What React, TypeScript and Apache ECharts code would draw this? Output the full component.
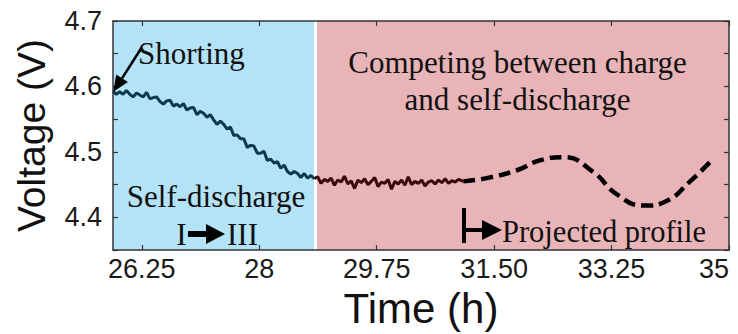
import React, { useEffect, useRef } from "react";
import * as echarts from "echarts";

// ---------- data ----------
const xTicks = [26.25, 28, 29.75, 31.5, 33.25, 35];
const yLabels = [4.4, 4.5, 4.6, 4.7];

const blueZone = [25.82, 28.815];
const pinkZone = [28.86, 35];

// self-discharge segment (h, V)
const seg1Time = [
  25.82, 25.87, 25.92, 25.97, 26.02, 26.07, 26.12, 26.17, 26.22, 26.27,
  26.32, 26.37, 26.42, 26.47, 26.52, 26.57, 26.62, 26.67, 26.72, 26.77,
  26.82, 26.87, 26.92, 26.97, 27.02, 27.07, 27.12, 27.17, 27.22, 27.27,
  27.32, 27.37, 27.42, 27.47, 27.52, 27.57, 27.62, 27.67, 27.72, 27.77,
  27.82, 27.87, 27.92, 27.97, 28.02, 28.07, 28.12, 28.17, 28.22, 28.27,
  28.32, 28.37, 28.42, 28.47, 28.52, 28.57, 28.62, 28.67, 28.72, 28.77,
  28.82,
];
const seg1Volt = [
  4.593, 4.588, 4.592, 4.588, 4.594, 4.588, 4.584, 4.590, 4.587, 4.584,
  4.591, 4.581, 4.583, 4.584, 4.577, 4.573, 4.578, 4.579, 4.570, 4.573,
  4.569, 4.574, 4.564, 4.567, 4.568, 4.557, 4.562, 4.559, 4.553, 4.557,
  4.549, 4.542, 4.547, 4.542, 4.535, 4.538, 4.525, 4.526, 4.520, 4.520,
  4.507, 4.510, 4.509, 4.498, 4.498, 4.501, 4.487, 4.489, 4.483, 4.485,
  4.475, 4.480, 4.470, 4.466, 4.470, 4.467, 4.461, 4.467, 4.460, 4.464,
  4.459,
];

// competing segment (h, V)
const seg2Time = [
  28.82, 28.87, 28.92, 28.97, 29.02, 29.07, 29.12, 29.17, 29.22, 29.27,
  29.32, 29.37, 29.42, 29.47, 29.52, 29.57, 29.62, 29.67, 29.72, 29.77,
  29.82, 29.87, 29.92, 29.97, 30.02, 30.07, 30.12, 30.17, 30.22, 30.27,
  30.32, 30.37, 30.42, 30.47, 30.52, 30.57, 30.62, 30.67, 30.72, 30.77,
  30.82, 30.87, 30.92, 30.97, 31.04,
];
const seg2Volt = [
  4.459, 4.462, 4.452, 4.458, 4.455, 4.460, 4.449, 4.457, 4.454, 4.463,
  4.451, 4.456, 4.444, 4.457, 4.453, 4.459, 4.450, 4.455, 4.461, 4.447,
  4.454, 4.452, 4.458, 4.443, 4.455, 4.451, 4.457, 4.449, 4.462, 4.450,
  4.455, 4.452, 4.457, 4.448, 4.454, 4.456, 4.451, 4.457, 4.453, 4.459,
  4.452, 4.456, 4.454, 4.458, 4.455,
];

// projected profile (h, V)
const projTime = [31.04, 31.39, 31.84, 32.18, 32.53, 32.98, 33.33, 33.74, 34.07, 34.42, 34.76];
const projVolt = [4.455, 4.460, 4.472, 4.487, 4.492, 4.469, 4.435, 4.418, 4.425, 4.455, 4.489];

const zip = (a: number[], b: number[]) => a.map((t, i) => [t, b[i]]);

const SANS = "'Liberation Sans', Arial, sans-serif";
const SERIF = "'Liberation Serif', 'Times New Roman', serif";

export default function App() {
  const ref = useRef<HTMLDivElement>(null);

  useEffect(() => {
    document.body.style.margin = "0";
    if (!ref.current) return;
    const chart = echarts.init(ref.current, undefined, { renderer: "svg" });

    const axisLine = { show: true, lineStyle: { color: "#333", width: 1.5 } };
    const tick = { show: true, inside: true, length: 5, lineStyle: { color: "#333", width: 1.2 } };
    const fmtX = (v: number) => (Number.isInteger(v) ? String(v) : v.toFixed(2));

    const serifText = (text: string, x: number, y: number, align: string, size = 31) => ({
      type: "text",
      x,
      y,
      z: 20,
      style: {
        text,
        fontSize: size,
        fontFamily: SERIF,
        fill: "#111",
        textAlign: align,
        align,
        textVerticalAlign: "middle",
        verticalAlign: "middle",
      },
    });

    chart.setOption({
      animation: false,
      backgroundColor: "#fff",
      grid: { left: 113, right: 9, top: 21, bottom: 77, containLabel: false },
      xAxis: [
        {
          type: "value",
          position: "bottom",
          min: blueZone[0],
          max: 35,
          z: 5,
          axisLine,
          axisTick: { ...tick, customValues: xTicks },
          splitLine: { show: false },
          axisLabel: {
            customValues: xTicks,
            formatter: fmtX,
            fontSize: 27,
            fontFamily: SANS,
            color: "#1a1a1a",
            margin: 5,
            alignMaxLabel: "right",
          },
          name: "Time (h)",
          nameLocation: "middle",
          nameGap: 34,
          nameTextStyle: { fontSize: 42, fontFamily: SANS, color: "#111" },
        },
        {
          type: "value",
          position: "top",
          min: blueZone[0],
          max: 35,
          z: 5,
          axisLine,
          axisTick: { ...tick, customValues: xTicks },
          splitLine: { show: false },
          axisLabel: { show: false },
        },
      ],
      yAxis: [
        {
          type: "value",
          position: "left",
          min: 4.35,
          max: 4.7,
          interval: 0.05,
          z: 5,
          axisLine,
          axisTick: tick,
          splitLine: { show: false },
          axisLabel: {
            customValues: yLabels,
            formatter: (v: number) => v.toFixed(1),
            fontSize: 27,
            fontFamily: SANS,
            color: "#1a1a1a",
            margin: 11,
          },
          name: "Voltage (V)",
          nameLocation: "middle",
          nameGap: 62,
          nameTextStyle: { fontSize: 39, fontFamily: SANS, color: "#111" },
        },
        {
          type: "value",
          position: "right",
          min: 4.35,
          max: 4.7,
          interval: 0.05,
          z: 5,
          axisLine,
          axisTick: tick,
          splitLine: { show: false },
          axisLabel: { show: false },
        },
      ],
      series: [
        {
          type: "line",
          name: "zones",
          data: [],
          z: 1,
          silent: true,
          markArea: {
            silent: true,
            label: { show: false },
            data: [
              [
                { xAxis: blueZone[0], itemStyle: { color: "#b4e3f8", opacity: 1 } },
                { xAxis: blueZone[1] },
              ],
              [
                { xAxis: pinkZone[0], itemStyle: { color: "#e8b4b8", opacity: 1 } },
                { xAxis: pinkZone[1] },
              ],
            ],
          },
        },
        {
          type: "line",
          name: "self-discharge",
          data: zip(seg1Time, seg1Volt),
          showSymbol: false,
          z: 3,
          lineStyle: { color: "#0b3a4c", width: 3 },
        },
        {
          type: "line",
          name: "competing",
          data: zip(seg2Time, seg2Volt),
          showSymbol: false,
          z: 3,
          lineStyle: { color: "#3a0606", width: 3 },
        },
        {
          type: "line",
          name: "projected",
          data: zip(projTime, projVolt),
          showSymbol: false,
          smooth: 0.5,
          z: 3,
          lineStyle: { color: "#000", width: 4.5, type: [12, 6] },
        },
      ],
      graphic: [
        serifText("Shorting", 138, 53, "left"),
        // shorting arrow
        {
          type: "line",
          z: 20,
          shape: { x1: 141.7, y1: 47.5, x2: 122, y2: 78.3 },
          style: { stroke: "#000", lineWidth: 2.5 },
        },
        {
          type: "polygon",
          z: 20,
          shape: { points: [[113.3, 91.7], [127.9, 82.1], [116.2, 74.5]] },
          style: { fill: "#000" },
        },
        serifText("Competing between charge", 517.5, 62, "center"),
        serifText("and self-discharge", 517.5, 99, "center"),
        serifText("Self-discharge", 216, 196, "center"),
        serifText("I", 181.5, 234, "center"),
        serifText("III", 227, 234, "left"),
        {
          type: "polygon",
          z: 20,
          shape: {
            points: [[188, 231], [206, 231], [206, 224], [225, 234], [206, 244], [206, 237], [188, 237]],
          },
          style: { fill: "#000" },
        },
        // projected profile marker
        {
          type: "rect",
          z: 20,
          shape: { x: 462, y: 208, width: 4, height: 35 },
          style: { fill: "#000" },
        },
        {
          type: "rect",
          z: 20,
          shape: { x: 464, y: 228, width: 20, height: 4 },
          style: { fill: "#000" },
        },
        {
          type: "polygon",
          z: 20,
          shape: { points: [[482, 220], [502, 230], [482, 240]] },
          style: { fill: "#000" },
        },
        serifText("Projected profile", 502, 232, "left", 30.5),
      ],
    });

    return () => chart.dispose();
  }, []);

  return <div ref={ref} style={{ width: 738, height: 334 }} />;
}
